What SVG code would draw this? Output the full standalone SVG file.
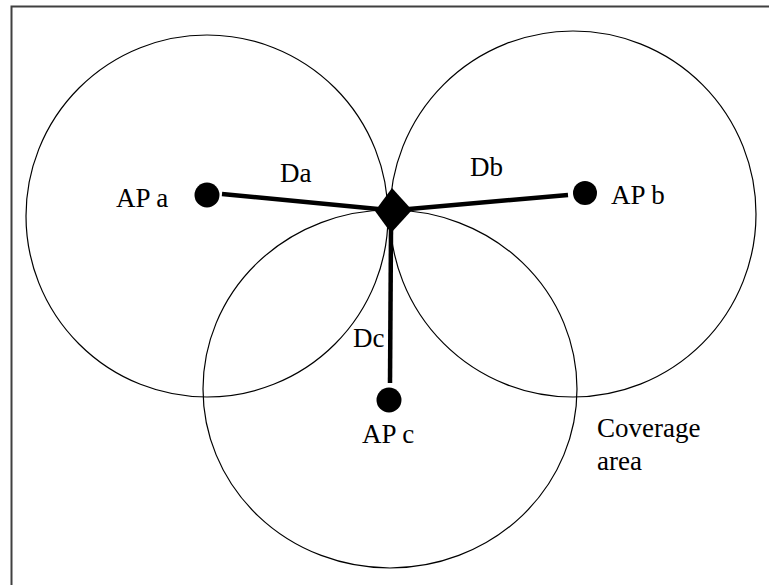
<svg xmlns="http://www.w3.org/2000/svg" width="769" height="585" viewBox="0 0 769 585">
<style>
.frame{fill:none;stroke:#404040;stroke-width:2}
.cov{fill:none;stroke:#000;stroke-width:1.2}
.link{stroke:#000;stroke-width:4.5;stroke-linecap:butt}
.dot{fill:#000}
.lbl{font-family:"Liberation Serif","Times New Roman",serif;font-size:27px;fill:#000}
</style>
<rect width="769" height="585" fill="#fff"/>
<rect class="frame" x="11.5" y="6.5" width="800" height="600"/>
<g id="coverage">
<circle id="circle-a" class="cov" cx="207" cy="216" r="181"/>
<circle id="circle-b" class="cov" cx="573" cy="214" r="183"/>
<ellipse id="circle-c" class="cov" cx="390" cy="389" rx="187" ry="179"/>
</g>
<g id="connectors">
<line class="link" x1="222" y1="194" x2="378" y2="209"/>
<line class="link" x1="409" y1="209" x2="568" y2="195"/>
<line class="link" x1="391" y1="230" x2="390" y2="383"/>
</g>
<g id="ap-a"><circle class="dot" cx="207" cy="195" r="12.5"/><text class="lbl" x="116" y="207">AP a</text></g>
<g id="ap-b"><circle class="dot" cx="585" cy="193" r="12"/><text class="lbl" x="611" y="204">AP b</text></g>
<g id="ap-c"><circle class="dot" cx="389" cy="400" r="12.5"/><text class="lbl" x="362" y="443">AP c</text></g>
<g id="device"><polygon class="dot" points="392,188 412,210 391,233 375,211"/></g>
<g id="labels">
<text class="lbl" x="280" y="182">Da</text>
<text class="lbl" x="470" y="176">Db</text>
<text class="lbl" x="353" y="347">Dc</text>
<text class="lbl" x="597" y="437">Coverage</text>
<text class="lbl" x="597" y="470">area</text>
</g>
</svg>
